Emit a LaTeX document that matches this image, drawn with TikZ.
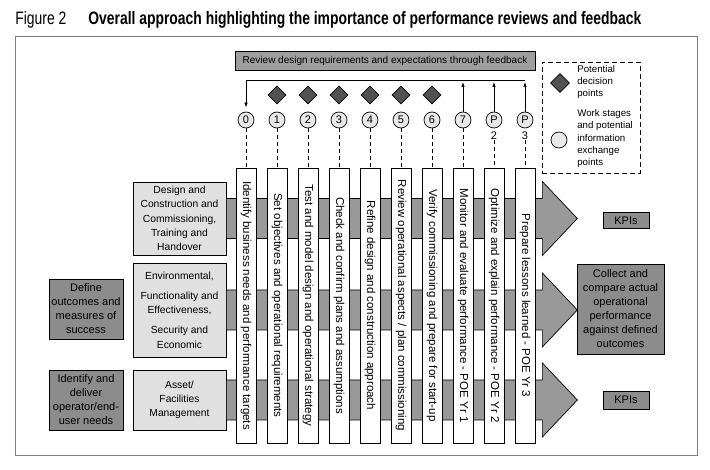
\documentclass[tikz,border=0pt]{standalone}
\usepackage{fontspec}
\setmainfont{Liberation Sans}
\usetikzlibrary{arrows.meta,shapes.geometric}

\begin{document}
\begin{tikzpicture}[x=1pt,y=-1pt,line width=0.7pt,
  lightbox/.style={draw=black,fill=black!12,align=center,inner sep=0pt,font=\fontsize{10.3}{14.2}\selectfont},
  darkbox/.style={draw=black,fill=black!45,align=center,inner sep=0pt,font=\fontsize{11}{14}\selectfont},
  stage/.style={circle,draw=black,fill=black!9,minimum size=16pt,inner sep=0pt,font=\fontsize{11}{11}\selectfont},
  decision/.style={diamond,draw=black,fill=black!68,minimum width=18pt,minimum height=18pt,inner sep=0pt},
  bar/.style={draw=black,fill=white,minimum width=275pt,minimum height=20pt,inner sep=0pt,rotate=-90,font=\fontsize{11.5}{12}\selectfont},
  band/.style={draw=black,fill=black!40},
  legendtext/.style={anchor=west,align=left,inner sep=0pt,font=\fontsize{9.7}{12.2}\selectfont},
  feedback/.style={-{Latex[length=5pt,width=3.5pt]}}]
\useasboundingbox (0,0) rectangle (710,470);
\draw[black!50,line width=0.9pt] (15,36) rectangle (697,455);
\node[anchor=base west,inner sep=0pt] (fignum) at (15,24.5) {\resizebox{51pt}{\height}{\fontsize{18}{20}\selectfont Figure 2}};
\node[anchor=base west,inner sep=0pt] (title) at (88,24.5) {\resizebox{553pt}{\height}{\fontsize{18}{20}\selectfont\bfseries Overall approach highlighting the importance of performance reviews and feedback}};

\node[draw=black,fill=black!38,minimum width=300pt,minimum height=18.5pt,inner sep=0pt,font=\fontsize{10}{12}\selectfont] (review) at (385,61) {Review design requirements and expectations through feedback};

\foreach \lab [count=\i from 0] in {0,1,2,3,4,5,6,7,P,P}
  \node[stage] (c\i) at (246+31*\i,120) {\lab};
\foreach \i in {1,...,6}
  \node[decision] (d\i) at (246+31*\i,95) {};
\node[inner sep=0pt,font=\fontsize{11}{11}\selectfont] (p2) at (c8 |- 0,135.5) {2};
\node[inner sep=0pt,font=\fontsize{11}{11}\selectfont] (p3) at (c9 |- 0,135.5) {3};

\coordinate (fb) at (0,80);
\draw (c9 |- fb) -- (c0 |- fb);
\draw[feedback,shorten >=4pt] (c0 |- fb) -- (c0.north);
\foreach \i in {7,8,9}
  \draw[feedback] (c\i.north) -- ([yshift=-2pt]c\i |- fb);

\node[lightbox,minimum width=93pt,minimum height=73pt] (design) at (179.5,218.5) {Design and\\Construction and\\Commissioning,\\Training and\\Handover};
\node[lightbox,minimum width=93pt,minimum height=94pt] (environ) at (179.5,310) {Environmental,\\[6pt]Functionality and\\Effectiveness,\\[6pt]Security and\\Economic};
\node[lightbox,minimum width=93pt,minimum height=60pt] (asset) at (179.5,400) {Asset/\\Facilities\\Management};

\foreach \bx in {design,environ,asset}
  \draw[band] (\bx.east) ++(0,-20) -- ++(316,0) -- ++(0,-17) -- ++(35,37) -- ++(-35,37) -- ++(0,-17) -- ++(-316,0) -- cycle;

\foreach \txt [count=\i from 0] in {Identify business needs and performance targets,
    Set objectives and operational requirements,
    Test and model design and operational strategy,
    Check and confirm plans and assumptions,
    Refine design and construction approach,
    Review operational aspects / plan commissioning,
    Verify commissioning and prepare for start-up,
    Monitor and evaluate performance - POE Yr 1,
    Optimize and explain performance - POE Yr 2,
    Prepare lessons learned - POE Yr 3}
  \node[bar] (b\i) at (246+31*\i,305.5) {\txt};
\foreach \i in {0,...,7}
  \draw[dashed,dash pattern=on 4pt off 3pt] (c\i.south) -- (b\i.west);
\draw[dashed,dash pattern=on 4pt off 3pt] (p2.south) -- (b8.west);
\draw[dashed,dash pattern=on 4pt off 3pt] (p3.south) -- (b9.west);

\node[darkbox,minimum width=74pt,minimum height=60pt] (define) at (86,309) {Define\\outcomes and\\measures of\\success};
\node[darkbox,minimum width=74pt,minimum height=60pt] (identify) at (86,400) {Identify and\\deliver\\operator/end-\\user needs};

\node[darkbox,minimum width=46pt,minimum height=16pt] (kpitop) at (626,220.5) {KPIs};
\node[darkbox,minimum width=87pt,minimum height=90pt] (collect) at (620.5,309) {Collect and\\compare actual\\operational\\performance\\against defined\\outcomes};
\node[darkbox,minimum width=46pt,minimum height=18pt] (kpibot) at (626,400) {KPIs};

\node[draw=black,dashed,dash pattern=on 5pt off 3pt,line width=0.6pt,minimum width=98pt,minimum height=111pt,inner sep=0pt] (legend) at (591,117.5) {};
\node[decision,minimum width=19pt,minimum height=19pt] (legdiam) at (560,83) {};
\node[stage,minimum size=16pt] (legcirc) at (559,140) {};
\node[legendtext] (legdiamtxt) at (577,82) {Potential\\decision\\points};
\node[legendtext] (legcirctxt) at (577,138.5) {Work stages\\and potential\\information\\exchange\\points};
\end{tikzpicture}
\end{document}
